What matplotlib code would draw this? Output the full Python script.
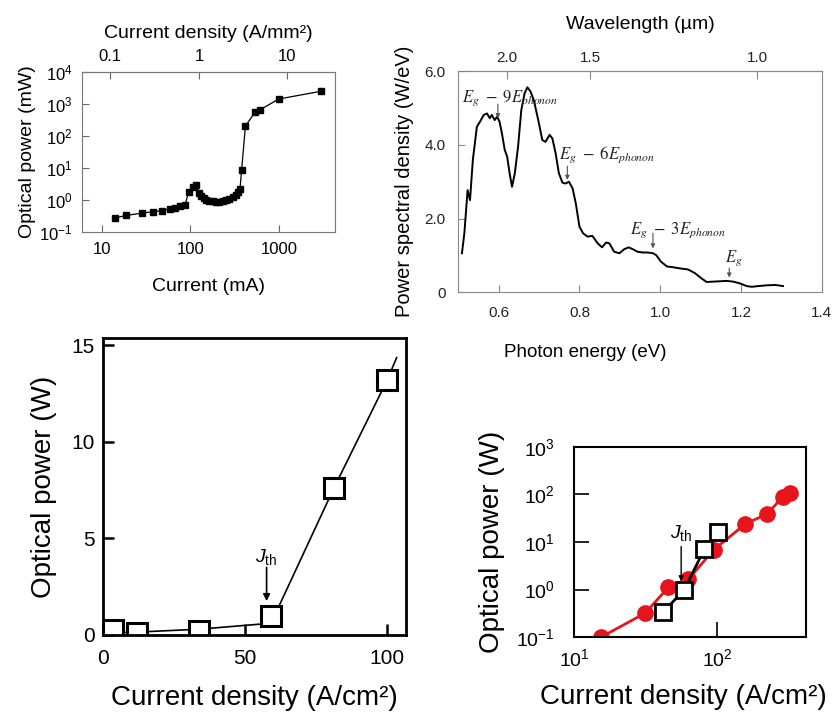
import numpy as np
import matplotlib
matplotlib.use("Agg")
from matplotlib import pyplot as plt
from matplotlib.ticker import NullLocator

plt.rcParams["font.family"] = ["Liberation Sans", "DejaVu Sans"]
plt.rcParams["mathtext.fontset"] = "custom"
plt.rcParams["mathtext.rm"] = "Liberation Sans"
plt.rcParams["mathtext.it"] = "Liberation Sans:italic"
plt.rcParams["mathtext.bf"] = "Liberation Sans:bold"

# --- top left: optical power vs current (log-log)
current_ma = [14.0, 19.0, 28.4, 37.8, 48.3, 58.4, 68, 76.9, 87.6, 95.5, 107, 116,
              125, 133, 141, 151, 164, 179, 195, 213, 232, 253, 276, 301, 328,
              348, 364, 379, 419, 537, 607, 993, 2980]
power_mw = [0.275, 0.33, 0.39, 0.43, 0.47, 0.52, 0.575, 0.65, 0.71, 1.78, 2.54, 3.0,
            1.65, 1.36, 1.15, 1.02, 0.95, 0.91, 0.89, 0.89, 0.91, 0.98, 1.1, 1.27, 1.43,
            1.73, 2.2, 8.4, 206, 550, 650, 1430, 2500]
ma_per_a_mm2 = 125.0

# --- top right: emission spectrum
energy_ev = [0.509, 0.515, 0.523, 0.529, 0.536, 0.546, 0.554, 0.563, 0.571, 0.578,
             0.583, 0.590, 0.596, 0.602, 0.608, 0.615, 0.621, 0.627, 0.633, 0.640,
             0.648, 0.656, 0.664, 0.671, 0.679, 0.687, 0.698, 0.708, 0.716, 0.726,
             0.733, 0.741, 0.749, 0.758, 0.766, 0.774, 0.783, 0.791, 0.800, 0.809,
             0.820, 0.832, 0.845, 0.856, 0.866, 0.874, 0.886, 0.899, 0.911, 0.922,
             0.932, 0.944, 0.957, 0.969, 0.982, 0.990, 1.002, 1.017, 1.032, 1.048,
             1.069, 1.086, 1.102, 1.115, 1.131, 1.148, 1.164, 1.181, 1.198, 1.214,
             1.227, 1.243, 1.264, 1.285, 1.304]
psd = [1.06, 1.6, 2.77, 2.5, 3.59, 4.49, 4.63, 4.81, 4.85, 4.72,
       4.81, 4.67, 4.76, 4.63, 4.31, 3.86, 3.68, 3.23, 2.86, 3.23,
       3.95, 4.94, 5.39, 5.56, 5.44, 5.21, 4.67, 4.13, 4.08, 4.27,
       4.17, 3.77, 3.23, 2.97, 2.95, 3.0, 2.82, 2.41, 1.78, 1.6,
       1.51, 1.53, 1.33, 1.22, 1.35, 1.33, 1.1, 1.06, 1.17, 1.22,
       1.17, 1.1, 1.08, 1.08, 1.06, 1.01, 0.83, 0.70, 0.68, 0.65,
       0.62, 0.52, 0.38, 0.28, 0.29, 0.30, 0.31, 0.29, 0.24, 0.17,
       0.15, 0.17, 0.19, 0.20, 0.17]
phonon_labels = [r"$E_g\ -\ 9E_{phonon}$", r"$E_g\ -\ 6E_{phonon}$",
                 r"$E_g\ -\ 3E_{phonon}$", r"$E_g$"]
phonon_label_x = [0.508, 0.749, 0.924, 1.160]
phonon_label_y = [5.27, 3.72, 1.69, 0.93]
phonon_energy = [0.598, 0.770, 0.982, 1.171]
phonon_arrow_from = [5.1, 3.42, 1.6, 0.66]
phonon_arrow_to = [4.72, 3.05, 1.19, 0.40]

# --- bottom left: optical power vs current density (linear)
jd_lin = [3.5, 12, 34, 59.2, 81.4, 100.2]
pw_lin = [0.25, 0.12, 0.2, 0.98, 7.6, 13.2]
below_x = [0.5, 12, 34, 58.5]
below_y = [0.12, 0.15, 0.3, 0.6]
above_x = [60.5, 81.4, 100.2, 103.5]
above_y = [1.0, 7.6, 13.2, 14.35]
jth_lin = 57.7

# --- bottom right: log-log comparison
red_jd = [15.4, 31.4, 45.8, 63.2, 94.7, 158, 224, 290, 323]
red_pw = [0.1, 0.32, 1.12, 1.65, 6.8, 23.9, 38.7, 89, 108]
sq_jd = [41.8, 59, 81.5, 102.5]
sq_pw = [0.335, 0.98, 7.0, 16.4]
jth_log = 56.2

fig = plt.figure(figsize=(8.38, 7.13), dpi=100)

# top left
ax1 = fig.add_axes([0.0979, 0.6746, 0.3019, 0.2244])
ax1.plot(current_ma, power_mw, "-s", color="black", lw=0.9, ms=4.2)
ax1.set_xscale("log")
ax1.set_yscale("log")
ax1.set_xlim(6, 4300)
ax1.set_ylim(0.1, 1e4)
ax1.set_xticks([10, 100, 1000])
ax1.set_xticklabels(["10", "100", "1000"])
ax1.set_yticks([0.1, 1, 10, 100, 1000, 10000])
ax1.set_yticklabels([r"$10^{-1}$", r"$10^{0}$", r"$10^{1}$", r"$10^{2}$",
                     r"$10^{3}$", r"$10^{4}$"])
ax1.xaxis.set_minor_locator(NullLocator())
ax1.yaxis.set_minor_locator(NullLocator())
ax1.tick_params(direction="in", length=5, labelsize=12, color="#666666", pad=7)
for s in ax1.spines.values():
    s.set_color("#777777")
ax1.set_xlabel("Current (mA)", fontsize=14, labelpad=15)
ax1.set_ylabel("Optical power (mW)", fontsize=14, labelpad=2)
top1 = ax1.secondary_xaxis("top", functions=(lambda x: x / ma_per_a_mm2,
                                             lambda x: x * ma_per_a_mm2))
top1.set_xticks([0.1, 1, 10])
top1.set_xticklabels(["0.1", "1", "10"])
top1.xaxis.set_minor_locator(NullLocator())
top1.tick_params(direction="in", length=5, labelsize=12, color="#666666", pad=6)
top1.spines["top"].set_color("#777777")
top1.set_xlabel("Current density (A/mm²)", fontsize=14, labelpad=8)

# top right
ax2 = fig.add_axes([0.5469, 0.590, 0.4337, 0.3104])
ax2.plot(energy_ev, psd, color="black", lw=1.4)
ax2.set_xlim(0.5, 1.4)
ax2.set_ylim(0, 6)
ax2.set_xticks([0.6, 0.8, 1.0, 1.2, 1.4])
ax2.set_xticklabels(["0.6", "0.8", "1.0", "1.2", "1.4"])
ax2.set_yticks([0, 2, 4, 6])
ax2.set_yticklabels(["0", "2.0", "4.0", "6.0"])
ax2.tick_params(direction="in", length=5, labelsize=11, color="#888888",
                labelcolor="#222222", pad=9)
ax2.tick_params(axis="x", pad=10)
for s in ax2.spines.values():
    s.set_color("#888888")
ax2.set_xlabel("Photon energy (eV)", fontsize=13.5)
ax2.xaxis.set_label_coords(0.35, -0.235)
ax2.set_ylabel("Power spectral density (W/eV)", fontsize=14.5, labelpad=8)
top2 = ax2.secondary_xaxis("top", functions=(lambda e: 1.24 / np.maximum(e, 1e-3),
                                             lambda w: 1.24 / np.maximum(w, 1e-3)))
top2.set_xticks([2.0, 1.5, 1.0])
top2.set_xticklabels(["2.0", "1.5", "1.0"])
top2.tick_params(direction="in", length=6, labelsize=11, color="#888888",
                 labelcolor="#222222", pad=4)
top2.spines["top"].set_color("#888888")
top2.set_xlabel("Wavelength (µm)", fontsize=14, labelpad=16)
for lab, lx, ly, ex, y0, y1 in zip(phonon_labels, phonon_label_x, phonon_label_y,
                                   phonon_energy, phonon_arrow_from, phonon_arrow_to):
    ax2.text(lx, ly, lab, fontsize=12, ha="left", va="center",
             math_fontfamily="stix", color="#222222")
    ax2.annotate("", xy=(ex, y1), xytext=(ex, y0),
                 arrowprops=dict(arrowstyle="-|>", color="#44546a", lw=0.8,
                                 mutation_scale=6, shrinkA=0, shrinkB=0))

# bottom left
ax3 = fig.add_axes([0.1226, 0.1094, 0.3619, 0.4161])
ax3.plot(below_x, below_y, color="black", lw=1.2)
ax3.plot(above_x, above_y, color="black", lw=1.2)
ax3.plot(jd_lin, pw_lin, "s", ms=15, mfc="white", mec="black", mew=2.2)
ax3.set_xlim(0, 106.8)
ax3.set_ylim(0, 15.35)
ax3.set_xticks([0, 50, 100])
ax3.set_yticks([0, 5, 10, 15])
ax3.tick_params(direction="in", length=8, width=1.8, labelsize=15, pad=6)
ax3.tick_params(axis="x", pad=10)
for s in ax3.spines.values():
    s.set_linewidth(2)
ax3.set_xlabel("Current density (A/cm²)", fontsize=20, labelpad=12)
ax3.set_ylabel("Optical power (W)", fontsize=20, labelpad=10)
ax3.text(jth_lin, 4.05, r"$J_{\mathrm{th}}$", fontsize=14, ha="center", va="center")
ax3.annotate("", xy=(jth_lin, 1.75), xytext=(jth_lin, 3.5),
             arrowprops=dict(arrowstyle="-|>", color="black", lw=1.2,
                             mutation_scale=10, shrinkA=0, shrinkB=0))

# bottom right
ax4 = fig.add_axes([0.685, 0.1062, 0.2768, 0.2673])
ax4.plot(red_jd, red_pw, "-o", color="#e8141b", lw=2, ms=11)
ax4.plot(sq_jd, sq_pw, "-s", color="black", lw=2, ms=11, mfc="white", mec="black",
         mew=2)
ax4.set_xscale("log")
ax4.set_yscale("log")
ax4.set_xlim(10, 420)
ax4.set_ylim(0.1, 1000)
ax4.set_xticks([10, 100])
ax4.set_xticklabels([r"$10^{1}$", r"$10^{2}$"])
ax4.set_yticks([0.1, 1, 10, 100, 1000])
ax4.set_yticklabels([r"$10^{-1}$", r"$10^{0}$", r"$10^{1}$", r"$10^{2}$", r"$10^{3}$"])
ax4.xaxis.set_minor_locator(NullLocator())
ax4.yaxis.set_minor_locator(NullLocator())
ax4.tick_params(direction="in", length=11, width=1.2, labelsize=14, pad=8)
ax4.tick_params(axis="y", pad=14)
for s in ax4.spines.values():
    s.set_linewidth(1.5)
ax4.set_xlabel("Current density (A/cm²)", fontsize=20)
ax4.xaxis.set_label_coords(0.47, -0.245)
ax4.set_ylabel("Optical power (W)", fontsize=20, labelpad=8)
ax4.text(jth_log, 15.5, r"$J_{\mathrm{th}}$", fontsize=14, ha="center", va="center")
ax4.annotate("", xy=(jth_log, 1.5), xytext=(jth_log, 8.0),
             arrowprops=dict(arrowstyle="-|>", color="black", lw=1.0,
                             mutation_scale=7, shrinkA=0, shrinkB=0))

fig.savefig("out.png", dpi=100)
